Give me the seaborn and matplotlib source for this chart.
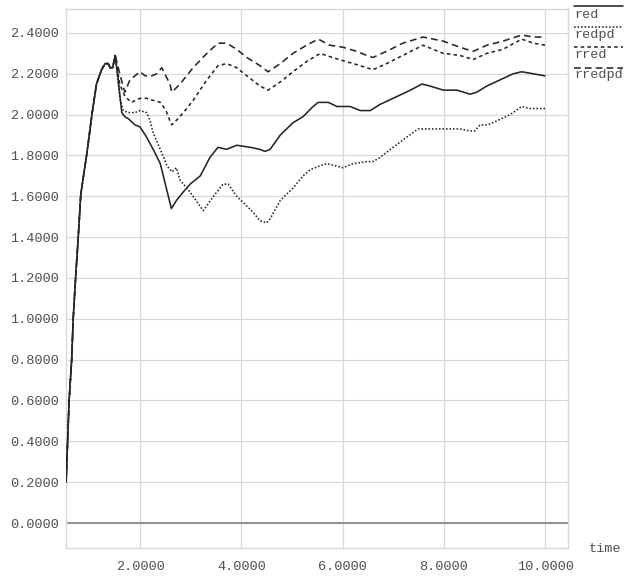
import numpy as np
import pandas as pd
import matplotlib
matplotlib.use("Agg")
import matplotlib.pyplot as plt
from matplotlib.lines import Line2D
import seaborn as sns

# Shared start-up transient (all four runs coincide here)
t_rise = [0.54, 0.60, 0.65, 0.68, 0.73, 0.78, 0.83, 0.95, 1.05, 1.14,
          1.24, 1.31, 1.37, 1.41, 1.46, 1.51]
v_rise = [0.20, 0.60, 0.80, 1.00, 1.21, 1.40, 1.61, 1.81, 2.00, 2.15,
          2.22, 2.25, 2.25, 2.23, 2.23, 2.29]

# red
t_red = [1.57, 1.64, 1.70, 1.77, 1.90, 2.00, 2.13, 2.26, 2.40, 2.50, 2.62,
         2.72, 2.85, 2.99, 3.19, 3.38, 3.54, 3.71, 3.91, 4.18, 4.37, 4.47,
         4.57, 4.77, 5.02, 5.22, 5.42, 5.52, 5.72, 5.89, 6.15, 6.35, 6.55,
         6.74, 7.00, 7.34, 7.57, 7.73, 7.99, 8.26, 8.52, 8.65, 8.85, 9.11,
         9.37, 9.54, 9.77, 10.00]
v_red = [2.17, 2.01, 1.99, 1.98, 1.95, 1.94, 1.89, 1.83, 1.76, 1.66, 1.54,
         1.58, 1.62, 1.66, 1.70, 1.79, 1.84, 1.83, 1.85, 1.84, 1.83, 1.82,
         1.83, 1.90, 1.96, 1.99, 2.04, 2.06, 2.06, 2.04, 2.04, 2.02, 2.02,
         2.05, 2.08, 2.12, 2.15, 2.14, 2.12, 2.12, 2.10, 2.11, 2.14, 2.17,
         2.20, 2.21, 2.20, 2.19]

# redpd
t_redpd = [1.60, 1.67, 1.77, 1.90, 2.00, 2.13, 2.20, 2.26, 2.40, 2.47, 2.53,
           2.63, 2.72, 2.79, 2.99, 3.25, 3.45, 3.64, 3.74, 3.91, 4.04, 4.24,
           4.37, 4.50, 4.57, 4.77, 5.02, 5.22, 5.36, 5.56, 5.69, 6.01, 6.21,
           6.48, 6.60, 6.74, 7.00, 7.27, 7.49, 7.66, 7.99, 8.32, 8.52, 8.61,
           8.72, 8.87, 9.05, 9.31, 9.54, 9.70, 10.00]
v_redpd = [2.08, 2.02, 2.01, 2.01, 2.02, 2.01, 1.97, 1.91, 1.83, 1.79, 1.75,
           1.72, 1.74, 1.68, 1.62, 1.53, 1.60, 1.66, 1.66, 1.60, 1.57, 1.52,
           1.48, 1.47, 1.49, 1.58, 1.64, 1.70, 1.73, 1.75, 1.76, 1.74, 1.76,
           1.77, 1.77, 1.79, 1.84, 1.89, 1.93, 1.93, 1.93, 1.93, 1.92, 1.92,
           1.95, 1.95, 1.97, 2.00, 2.04, 2.03, 2.03]

# rred
t_rred = [1.60, 1.70, 1.83, 2.00, 2.13, 2.26, 2.40, 2.46, 2.53, 2.59, 2.63,
          2.79, 3.05, 3.32, 3.54, 3.71, 3.91, 4.11, 4.37, 4.53, 4.77, 5.02,
          5.29, 5.56, 5.80, 6.07, 6.35, 6.60, 6.87, 7.19, 7.59, 7.99, 8.32,
          8.58, 8.85, 9.17, 9.54, 9.77, 10.00]
v_rred = [2.15, 2.09, 2.06, 2.08, 2.08, 2.07, 2.06, 2.04, 2.01, 1.97, 1.95,
          1.99, 2.07, 2.17, 2.24, 2.25, 2.23, 2.19, 2.14, 2.12, 2.16, 2.21,
          2.26, 2.30, 2.28, 2.26, 2.24, 2.22, 2.25, 2.29, 2.34, 2.30, 2.29,
          2.27, 2.30, 2.32, 2.37, 2.35, 2.34]

# rredpd
t_rredpd = [1.60, 1.70, 1.80, 1.90, 2.00, 2.10, 2.23, 2.33, 2.43, 2.53, 2.59,
            2.63, 2.79, 3.05, 3.32, 3.54, 3.71, 3.91, 4.11, 4.37, 4.53, 4.77,
            5.02, 5.29, 5.52, 5.75, 6.01, 6.28, 6.48, 6.60, 6.87, 7.19, 7.59,
            7.99, 8.32, 8.58, 8.85, 9.17, 9.54, 9.77, 10.00]
v_rredpd = [2.20, 2.11, 2.17, 2.19, 2.21, 2.19, 2.19, 2.20, 2.23, 2.18, 2.15,
            2.11, 2.15, 2.23, 2.30, 2.35, 2.35, 2.32, 2.28, 2.24, 2.21, 2.25,
            2.30, 2.34, 2.37, 2.34, 2.33, 2.31, 2.29, 2.28, 2.31, 2.35, 2.38,
            2.36, 2.33, 2.31, 2.34, 2.36, 2.39, 2.38, 2.38]

series_names = ["red", "redpd", "rred", "rredpd"]
series_t = [t_red, t_redpd, t_rred, t_rredpd]
series_v = [v_red, v_redpd, v_rred, v_rredpd]

y_ticks = [0.0, 0.2, 0.4, 0.6, 0.8, 1.0, 1.2, 1.4, 1.6, 1.8, 2.0, 2.2, 2.4]
x_ticks = [2.0, 4.0, 6.0, 8.0, 10.0]

frames = []
for name, t, v in zip(series_names, series_t, series_v):
    frames.append(pd.DataFrame({"time": t_rise + t, "value": v_rise + v,
                                "series": name}))
df = pd.concat(frames, ignore_index=True)

sns.set_theme(style="white")
mono = ["Liberation Mono", "DejaVu Sans Mono"]
plt.rcParams["font.family"] = mono
plt.rcParams["font.size"] = 9.7

ink = "#262626"
text_col = "#505050"
dash_map = {"red": "", "redpd": (1, 1.2), "rred": (2.2, 2.0), "rredpd": (4.2, 2.6)}

W, H = 624, 579
fig = plt.figure(figsize=(W / 100, H / 100), dpi=100)
fig.patch.set_facecolor("white")
ax = fig.add_axes([66 / W, 1 - 548 / H, (568 - 66) / W, (548 - 9) / H])

ax.axhline(0.0, color="#8a8a8a", lw=1.3, zorder=1)
sns.lineplot(data=df, x="time", y="value", style="series",
             style_order=series_names, dashes=dash_map, color=ink,
             linewidth=1.15, estimator=None, sort=False, legend=False, ax=ax,
             zorder=3)

ax.set_xlim(0.538, 10.454)
ax.set_ylim(-0.1224, 2.5174)
ax.set_xticks(x_ticks)
ax.set_yticks(y_ticks)
ax.set_xticklabels([f"{t:.4f}" for t in x_ticks])
ax.set_yticklabels([f"{t:.4f}" for t in y_ticks])
ax.tick_params(axis="both", length=0, colors=text_col, labelsize=9.7)
ax.tick_params(axis="y", pad=5)
ax.tick_params(axis="x", pad=9)
ax.grid(True, color="#d8d8d8", lw=0.9, zorder=0)
ax.set_axisbelow(True)
for sp in ax.spines.values():
    sp.set_color("#d8d8d8")
    sp.set_linewidth(1.0)
ax.set_xlabel("")
ax.set_ylabel("")

fig.text(589 / W, 1 - 549 / H, "time", ha="left", va="center",
         color=text_col, fontsize=9.7)

# Key in the right margin: sample line above each label
for i, name in enumerate(series_names):
    y_line = 6 + 20.7 * i
    y_txt = 14.5 + 20.3 * i
    ls = "-" if dash_map[name] == "" else (0, dash_map[name])
    fig.add_artist(Line2D([574 / W, 623 / W], [1 - y_line / H] * 2,
                          transform=fig.transFigure, color=ink, lw=1.15,
                          linestyle=ls))
    fig.text(574 / W, 1 - y_txt / H, name, ha="left", va="center",
             color=text_col, fontsize=9.7)

fig.savefig("out.png", dpi=100, facecolor="white")
